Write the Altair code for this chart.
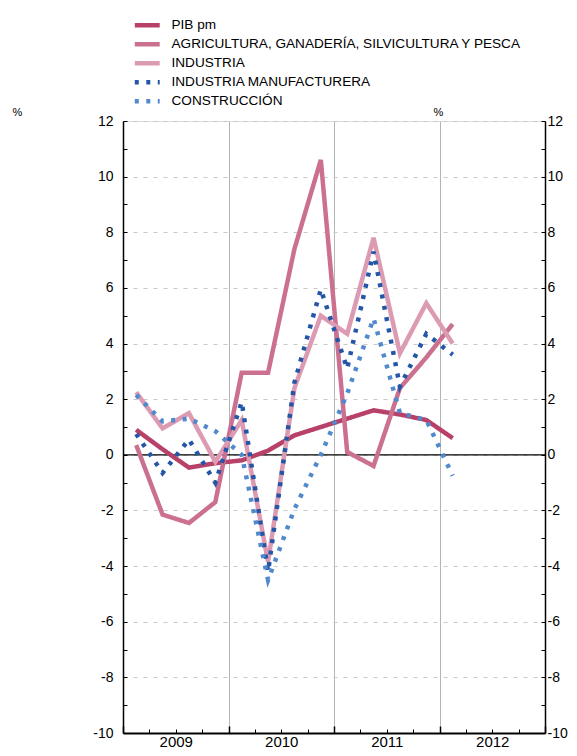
import altair as alt
import pandas as pd

# ---- data ----
years = [2009, 2009, 2009, 2009, 2010, 2010, 2010, 2010, 2011, 2011, 2011, 2011, 2012]
quarters = [1, 2, 3, 4, 1, 2, 3, 4, 1, 2, 3, 4, 1]

series = [
    "PIB pm",
    "AGRICULTURA, GANADERÍA, SILVICULTURA Y PESCA",
    "INDUSTRIA",
    "INDUSTRIA MANUFACTURERA",
    "CONSTRUCCIÓN",
]
pib = [0.9, 0.2, -0.46, -0.3, -0.2, 0.15, 0.7, 1.0, 1.3, 1.6, 1.45, 1.25, 0.6]
agricultura = [0.35, -2.15, -2.45, -1.7, 2.95, 2.95, 7.4, 10.6, 0.1, -0.4, 2.4, 3.5, 4.7]
industria = [2.25, 0.95, 1.5, -0.25, 1.25, -3.85, 2.4, 5.0, 4.35, 7.8, 3.65, 5.45, 4.0]
manufacturera = [0.75, -0.65, 0.55, -1.0, 1.9, -4.2, 2.6, 5.95, 3.1, 7.3, 2.45, 4.35, 3.6]
construccion = [2.15, 1.2, 1.3, 0.85, 0.0, -4.5, -1.95, 0.0, 2.2, 4.9, 1.5, 1.25, -0.75]

colors = ["#b8416a", "#cb7090", "#dc9bb2", "#2456a8", "#5089cc"]
dashes = [[1, 0], [1, 0], [1, 0], [4, 7.5], [4, 7.5]]
widths = [4.5, 4.5, 4.5, 4, 4]

year_labels = [2009, 2010, 2011, 2012]
year_bounds = [2009, 2010, 2011, 2012, 2013]
quarter_bounds = [2009.25, 2009.5, 2009.75, 2010.25, 2010.5, 2010.75,
                  2011.25, 2011.5, 2011.75, 2012.25, 2012.5, 2012.75]
y_major = [-10, -8, -6, -4, -2, 0, 2, 4, 6, 8, 10, 12]
y_minor = list(range(-10, 13))
zero_line = [0]

values = [pib, agricultura, industria, manufacturera, construccion]
rows = []
for name, vals in zip(series, values):
    for yr, q, v in zip(years, quarters, vals):
        rows.append({"serie": name, "x": yr + (q - 0.5) / 4, "v": v})
df = pd.DataFrame(rows)

FONT = "Liberation Sans, Arial, Helvetica, sans-serif"

xscale = alt.Scale(domain=[2009, 2013], nice=False, zero=False)
yscale = alt.Scale(domain=[-10, 12], nice=False, zero=False)

# axes
ax_x_labels = alt.Axis(orient="bottom", values=[y + 0.5 for y in year_labels],
                       labelExpr="floor(datum.value)", ticks=False, grid=False,
                       domain=True, domainColor="black", domainWidth=2,
                       labelFontSize=15, labelPadding=1, labelColor="black",
                       labelFont=FONT, title=None)
ax_x_grid = alt.Axis(orient="bottom", values=[2010, 2011, 2012], grid=True,
                     gridColor="#b4b4b4", gridWidth=1, ticks=False, labels=False,
                     domain=False, title=None)
ax_x_major = alt.Axis(orient="bottom", values=year_bounds, offset=-7, tickSize=7,
                      tickColor="black", tickWidth=1.5, labels=False, domain=False,
                      grid=False, title=None)
ax_x_minor = alt.Axis(orient="bottom", values=quarter_bounds, offset=-4, tickSize=4,
                      tickColor="black", tickWidth=1, labels=False, domain=False,
                      grid=False, title=None)

ax_y_left = alt.Axis(orient="left", values=y_major, grid=True, gridColor="#c8c8c8",
                     gridDash=[4, 6], gridWidth=1, ticks=False, domain=True,
                     domainColor="black", domainWidth=1.5, labelFontSize=14,
                     labelExpr="'' + datum.value",
                     labelPadding=10, labelColor="black", labelFont=FONT,
                     title="%", titleAngle=0, titleX=-106, titleY=-6,
                     titleAlign="center", titleBaseline="alphabetic",
                     titleFontSize=11, titleFontWeight="normal", titleFont=FONT,
                     titleColor="black")
ax_y_right = alt.Axis(orient="right", values=y_major, grid=False, ticks=False,
                      domain=True, domainColor="black", domainWidth=1.5,
                      labelFontSize=14, labelPadding=2, labelColor="black",
                      labelExpr="'' + datum.value",
                      labelFont=FONT, title="%", titleAngle=0, titleX=-107,
                      titleY=-6, titleAlign="center", titleBaseline="alphabetic",
                      titleFontSize=11, titleFontWeight="normal", titleFont=FONT,
                      titleColor="black")
ax_y_left_ticks = alt.Axis(orient="left", values=y_minor, offset=-4, tickSize=4,
                           tickColor="black", labels=False, domain=False, grid=False,
                           title=None)
ax_y_right_ticks = alt.Axis(orient="right", values=y_minor, offset=-4, tickSize=4,
                            tickColor="black", labels=False, domain=False, grid=False,
                            title=None)

legend_def = dict(title=None, orient="none", legendX=14.75, legendY=-105.2,
                  symbolType="M-1.72,0H1.72", symbolSize=210, symbolStrokeWidth=5,
                  labelFontSize=13.6, labelFont=FONT, labelColor="black",
                  labelOffset=14.75, labelLimit=600, rowPadding=-4.2, padding=0)

base = alt.Chart(df)

lines = base.mark_line(strokeCap="butt", strokeJoin="miter").encode(
    x=alt.X("x:Q", scale=xscale, axis=ax_x_labels),
    y=alt.Y("v:Q", scale=yscale, axis=ax_y_left),
    color=alt.Color("serie:N", scale=alt.Scale(domain=series, range=colors),
                    legend=alt.Legend(**legend_def)),
    strokeDash=alt.StrokeDash("serie:N", scale=alt.Scale(domain=series, range=dashes),
                              legend=alt.Legend(**legend_def)),
    strokeWidth=alt.StrokeWidth("serie:N", scale=alt.Scale(domain=series, range=widths),
                                legend=None),
)

def ghost(xax, yax):
    return base.mark_line(strokeOpacity=0).encode(
        x=alt.X("x:Q", scale=xscale, axis=xax),
        y=alt.Y("v:Q", scale=yscale, axis=yax),
        detail="serie:N",
    )

g2 = ghost(ax_x_grid, ax_y_right)
g3 = ghost(ax_x_major, ax_y_left_ticks)
g4 = ghost(ax_x_minor, ax_y_right_ticks)

zero = alt.Chart(pd.DataFrame({"y": zero_line})).mark_rule(color="black", strokeWidth=1.2).encode(
    y=alt.Y("y:Q", scale=yscale, axis=None)
)

chart = alt.layer(g2, g3, g4, zero, lines).resolve_axis(
    x="independent", y="independent"
).properties(
    width=422, height=612,
    autosize=alt.AutoSizeParams(type="none"),
    padding={"left": 115, "top": 113, "right": 24, "bottom": 15},
).configure_view(stroke=None).configure(font=FONT)

chart.save("out.html", embed_options={"renderer": "svg", "actions": False})
